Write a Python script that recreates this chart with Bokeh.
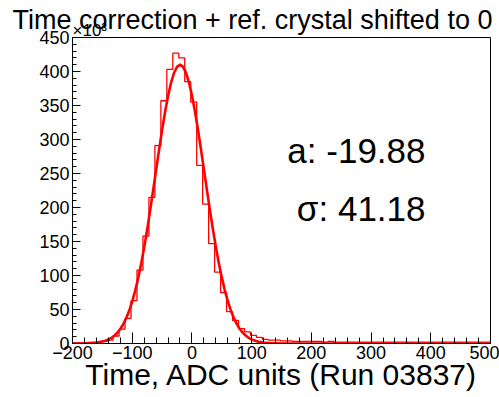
from bokeh.plotting import figure
from bokeh.models import Label, Title, SingleIntervalTicker, CustomJSTickFormatter, Range1d
from bokeh.embed import file_html
from bokeh.resources import INLINE

# ---------------- data (y in units of 10^3 entries) ----------------
bin_width = 10
first_edge = -202
hist_counts = [1, 1, 1, 1, 2, 3, 5, 11, 21, 37,
               63, 108, 158, 215, 291, 357, 403, 427, 420, 385,
               355, 262, 205, 147, 105, 75, 47, 34, 22, 17,
               12, 9, 6, 5, 5, 4, 4, 3, 3, 3,
               3, 3, 2, 3, 2, 2, 2, 2, 2, 2,
               2, 2, 2, 2, 2, 2, 2, 2, 2, 2,
               2, 2, 2, 2, 2, 2, 2, 2, 2, 2, 2]

fit_x = [-200, -180, -160, -150, -145, -140, -135, -130, -125, -120, -115, -110, -105,
         -100, -95, -90, -85, -80, -75, -70, -65, -60, -55, -50, -45, -40, -35, -30,
         -25, -20, -15, -10, -5, 0, 5, 10, 15, 20, 25, 30, 35, 40, 45, 50, 55, 60,
         65, 70, 75, 80, 85, 90, 95, 100, 110, 120, 130, 150, 200, 500]
fit_y = [0.0, 0.2, 1.3, 2.8, 4.1, 5.8, 8.2, 11.5, 15.8, 21.3, 28.5, 37.4, 48.4,
         61.8, 77.7, 96.2, 117.4, 141.2, 167.4, 195.5, 225.0, 255.1, 285.0, 313.8, 340.4, 363.9, 383.3, 397.8,
         406.8, 410.0, 407.1, 398.4, 384.1, 364.9, 341.6, 315.1, 286.4, 256.5, 226.4, 196.9, 168.7, 142.4, 118.5, 97.2, 78.5, 62.5,
         49.0, 37.9, 28.8, 21.6, 16.0, 11.7, 8.4, 5.9, 2.8, 1.3, 0.5, 0.1, 0.0, 0.0]

title_text = "Time correction + ref. crystal shifted to 0"
xlabel_text = "Time, ADC units (Run 03837)"
exp_text = "×10³"
mean_text = "a: -19.88"
sigma_text = "σ: 41.18"

# ---------------- layout ----------------
W, H = 499, 397
FL, FR, FT, FB = 72, 490, 37, 343   # frame edges in pixels
XMIN, XMAX, YMIN, YMAX = -200, 500, 0, 450
FONT = "Liberation Sans"

def px2x(px):
    return XMIN + (px - FL) / (FR - FL) * (XMAX - XMIN)

def px2y(py):
    return YMIN + (FB - py) / (FB - FT) * (YMAX - YMIN)

p = figure(width=W, height=H, output_backend="svg", toolbar_location=None,
           x_range=Range1d(XMIN, XMAX), y_range=Range1d(YMIN, YMAX),
           min_border_left=FL, min_border_right=W - FR,
           min_border_top=FT, min_border_bottom=H - FB)
p.title.visible = False
p.background_fill_color = "white"
p.border_fill_color = "white"
p.outline_line_color = "black"
p.outline_line_width = 1
p.xgrid.visible = False
p.ygrid.visible = False

# histogram as step outline
edges = [first_edge + i * bin_width for i in range(len(hist_counts) + 1)]
step_y = hist_counts + [hist_counts[-1]]
p.step(edges, step_y, mode="after", line_color="#ff0000", line_width=1.3)

# fit
p.line(fit_x, fit_y, line_color="#ff0000", line_width=2.6, line_join="round")

# axes
xa = p.xaxis[0]
xa.ticker = SingleIntervalTicker(interval=100, num_minor_ticks=5)
xa.formatter = CustomJSTickFormatter(code="return (tick < 0 ? '\u2212' + Math.abs(tick) : '' + tick);")
xa.major_tick_in = 11
xa.major_tick_out = 0
xa.minor_tick_in = 6
xa.minor_tick_out = 0
xa.major_label_standoff = 2
xa.major_label_text_font = FONT
xa.major_label_text_font_size = "18px"
xa.major_label_text_color = "black"
xa.axis_line_color = "black"
xa.axis_label = xlabel_text
xa.axis_label_text_font = FONT
xa.axis_label_text_font_size = "30px"
xa.axis_label_text_font_style = "normal"
xa.axis_label_text_color = "black"
xa.axis_label_standoff = -4

ya = p.yaxis[0]
ya.ticker = SingleIntervalTicker(interval=50, num_minor_ticks=5)
ya.major_tick_in = 8
ya.major_tick_out = 0
ya.minor_tick_in = 4
ya.minor_tick_out = 0
ya.major_label_standoff = 3
ya.major_label_text_font = FONT
ya.major_label_text_font_size = "18px"
ya.major_label_text_color = "black"
ya.axis_line_color = "black"

# exponent label (nearest the frame) and the main title above it
p.add_layout(Title(text=exp_text, align="left", offset=0, standoff=-4,
                   text_font=FONT, text_font_size="17px", text_font_style="normal",
                   text_color="black"), "above")
p.add_layout(Title(text=title_text, align="left", offset=12 - FL, standoff=-29,
                   text_font=FONT, text_font_size="27px", text_font_style="normal",
                   text_color="black"), "above")

def add_text(txt, px, py, size, align="left"):
    p.add_layout(Label(x=px2x(px), y=px2y(py), text=txt, text_font=FONT,
                       text_font_size=size, text_align=align,
                       text_baseline="alphabetic", text_color="black"))

add_text(mean_text, 425, 150, "35px", "right")
add_text(sigma_text, 425, 208, "35px", "right")

open("out.html", "w").write(file_html(p, INLINE))
